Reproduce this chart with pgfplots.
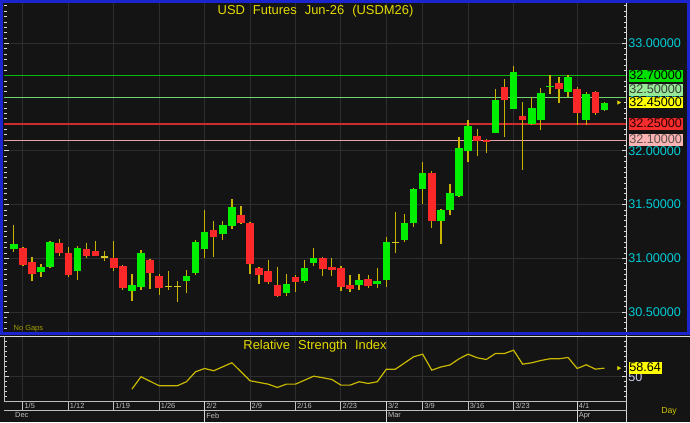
\documentclass[border=0pt]{standalone}
\usepackage{pgfplots}
\pgfplotsset{compat=1.18}
\usepackage{pgfplotstable}
\usepackage{fontspec}
\setmainfont{Liberation Sans}

\definecolor{bg}{RGB}{20,20,20}
\definecolor{gridc}{RGB}{46,46,46}
\definecolor{paneblue}{RGB}{28,36,205}
\definecolor{upc}{RGB}{0,238,0}
\definecolor{dnc}{RGB}{250,40,40}
\definecolor{wick}{RGB}{200,180,0}
\definecolor{dojic}{RGB}{215,200,40}
\definecolor{ttl}{RGB}{228,218,0}
\definecolor{cyanlab}{RGB}{0,205,215}
\definecolor{lvgreen}{RGB}{0,225,0}
\definecolor{lvgreenline}{RGB}{10,185,10}
\definecolor{lvlgreen}{RGB}{150,235,150}
\definecolor{lvlgreenline}{RGB}{110,215,110}
\definecolor{lvyellow}{RGB}{255,255,0}
\definecolor{lvred}{RGB}{245,45,45}
\definecolor{lvredline}{RGB}{205,45,45}
\definecolor{lvpink}{RGB}{255,180,180}
\definecolor{lvpinkline}{RGB}{230,165,165}
\definecolor{rsic}{RGB}{200,185,0}
\definecolor{ticksc}{RGB}{215,215,215}
\definecolor{datec}{RGB}{190,190,190}
\definecolor{lav}{RGB}{205,205,240}
\definecolor{olivec}{RGB}{165,160,0}

\pgfplotstableread{
i o h l c
0 31.084 31.307 31.060 31.134
3 30.876 30.945 30.827 30.917
4 30.920 31.161 30.907 31.149
7 30.886 31.118 30.802 31.099
13 30.697 30.858 30.604 30.749
14 30.734 31.081 30.709 31.050
19 30.790 30.895 30.678 30.833
20 30.861 31.171 30.849 31.149
21 31.087 31.446 31.000 31.245
23 31.227 31.347 31.174 31.313
24 31.301 31.555 31.276 31.477
30 30.678 30.858 30.647 30.759
32 30.787 30.985 30.771 30.914
33 30.960 31.099 30.932 31.007
38 30.753 30.852 30.703 30.799
40 30.759 30.911 30.725 30.793
41 30.796 31.199 30.734 31.155
43 31.174 31.413 31.150 31.329
44 31.326 31.657 31.292 31.645
45 31.648 31.896 31.508 31.793
47 31.344 31.462 31.137 31.446
48 31.449 31.688 31.400 31.604
49 31.577 32.128 31.570 32.029
50 32.001 32.286 31.892 32.236
53 32.171 32.577 32.165 32.475
55 32.394 32.791 32.388 32.732
57 32.246 32.506 32.240 32.398
58 32.286 32.584 32.190 32.543
59 32.590 32.707 32.528 32.608
61 32.552 32.707 32.506 32.686
63 32.286 32.546 32.243 32.534
65 32.379 32.456 32.373 32.450
}\upt

\pgfplotstableread{
i o h l c
1 31.099 31.109 30.932 30.941
2 30.966 31.016 30.787 30.851
5 31.140 31.180 31.025 31.050
6 31.047 31.109 30.830 30.846
8 31.090 31.143 31.007 31.025
9 31.065 31.158 31.020 31.025
11 31.007 31.165 30.886 30.910
12 30.932 30.935 30.709 30.728
15 30.982 30.997 30.715 30.861
16 30.839 30.855 30.663 30.728
22 31.264 31.347 31.010 31.196
25 31.406 31.484 31.320 31.329
26 31.329 31.341 30.855 30.945
27 30.914 30.916 30.762 30.842
28 30.883 30.985 30.762 30.777
29 30.749 30.917 30.638 30.653
31 30.830 30.849 30.684 30.777
34 31.007 31.010 30.833 30.901
35 30.917 31.000 30.833 30.892
36 30.907 30.932 30.700 30.737
37 30.756 30.849 30.684 30.712
39 30.808 30.842 30.728 30.743
46 31.793 31.812 31.282 31.350
51 32.143 32.205 31.948 32.094
52 32.103 32.112 31.979 32.081
54 32.590 32.673 32.128 32.469
56 32.326 32.459 31.821 32.289
60 32.633 32.686 32.444 32.577
62 32.574 32.593 32.243 32.357
64 32.549 32.558 32.336 32.357
}\dnt

\pgfplotstableread{
i o h l c
10 31.013 31.068 30.972 31.013
17 30.740 30.883 30.709 30.740
18 30.740 30.793 30.595 30.740
42 31.149 31.430 31.050 31.149
}\dojit

\pgfplotstableread{
i r
13 37.6
14 50.0
15 45.5
16 41.0
17 41.0
18 41.0
19 45.0
20 55.0
21 58.3
22 56.0
23 60.0
24 64.0
25 55.0
26 46.0
27 44.3
28 42.6
29 39.3
30 42.6
31 42.6
32 46.6
33 50.6
34 49.0
35 47.3
36 41.6
37 41.6
38 45.0
39 43.3
40 45.0
41 57.6
42 57.6
43 63.8
44 70.0
45 72.6
46 56.6
47 59.8
48 61.8
49 68.0
50 72.6
51 69.0
52 67.3
53 73.3
54 73.3
55 76.6
56 62.6
57 64.0
58 66.3
59 68.0
60 68.0
61 69.3
62 58.3
63 62.0
64 57.6
65 58.64
}\rsit

\newcommand\tickfont{\fontsize{12.7}{14}\selectfont}
\newcommand\wsp{\hspace{8bp}}

\tikzset{
  lvbox/.style={anchor=west, inner xsep=0.7bp, inner ysep=0.3bp, text height=9.3bp, text depth=1.9bp, font=\tickfont, xshift=1.8bp},
}
\pgfplotsset{
  commonax/.style={
    anchor=south west, scale only axis, width=623bp,
    xmin=-1.022, xmax=67.44, clip=false,
    axis line style={draw=none},
    xtick={1,6,11,16,21,26,31,36,41,45,50,55,62},
    xmajorticks=false,
    xmajorgrids, ymajorgrids,
    grid style={gridc, line width=0.9bp},
    ytick pos=both, yticklabel pos=right, tick align=inside,
    major tick length=5bp, minor tick length=3bp,
    ytick style={ticksc, line width=0.8bp},
    minor tick style={ticksc, line width=0.8bp},
    scaled y ticks=false,
    /pgf/number format/assume math mode=true,
  }
}

\begin{document}
\begin{tikzpicture}
\fill[bg] (0bp,0bp) rectangle (690bp,423bp);

% ---------- main price pane ----------
\begin{axis}[commonax,
  at={(4bp,90bp)}, height=330bp,
  ymin=30.3095, ymax=33.3764,
  ytick={30.5,31,...,33},
  minor ytick={30.35,30.4,...,33.36},
  yticklabel={\pgfmathprintnumber[fixed,fixed zerofill,precision=5]{\tick}},
  yticklabel style={cyanlab, font=\tickfont, inner xsep=1.5bp, anchor=west},
]
% level lines
\addplot[lvgreenline, line width=1.2bp] coordinates {(-1.022,32.70) (67.44,32.70)};
\addplot[lvlgreenline, line width=1.2bp] coordinates {(-1.022,32.50) (67.44,32.50)};
\addplot[lvredline, line width=1.2bp] coordinates {(-1.022,32.25) (67.44,32.25)};
\addplot[lvpinkline, line width=1.2bp] coordinates {(-1.022,32.10) (67.44,32.10)};

% wicks
\addplot[draw=none, mark=none, error bars/.cd, y dir=plus, y explicit, error mark=none,
  error bar style={line width=1.3bp, draw=wick}]
  table[x=i, y=l, y error plus expr={\thisrow{h}-\thisrow{l}}] {\upt};
\addplot[draw=none, mark=none, error bars/.cd, y dir=plus, y explicit, error mark=none,
  error bar style={line width=1.3bp, draw=wick}]
  table[x=i, y=l, y error plus expr={\thisrow{h}-\thisrow{l}}] {\dnt};
\addplot[draw=none, mark=none, error bars/.cd, y dir=plus, y explicit, error mark=none,
  error bar style={line width=1.3bp, draw=wick}]
  table[x=i, y=l, y error plus expr={\thisrow{h}-\thisrow{l}}] {\dojit};
% bodies (dark edge, then colour)
\addplot[draw=none, mark=none, error bars/.cd, y dir=plus, y explicit, error mark=none,
  error bar style={line width=7.6bp, draw=upc}]
  table[x=i, y=o, y error plus expr={\thisrow{c}-\thisrow{o}}] {\upt};
\addplot[draw=none, mark=none, error bars/.cd, y dir=plus, y explicit, error mark=none,
  error bar style={line width=7.6bp, draw=dnc}]
  table[x=i, y=c, y error plus expr={\thisrow{o}-\thisrow{c}}] {\dnt};
\addplot[only marks, mark=-, mark size=3.6bp, mark options={draw=dojic, line width=1.3bp}]
  table[x=i, y=o] {\dojit};
% last price marker
\addplot[only marks, mark=triangle*, mark size=2bp, mark options={rotate=-90, draw=ttl, fill=ttl}]
  coordinates {(66.56,32.45)};

\node[lvbox, fill=lvgreen, text=black] at (axis cs:67.44,32.70) {32.70000};
\node[lvbox, fill=lvlgreen, text={rgb,255:red,60;green,60;blue,60}, yshift=7.5bp] at (axis cs:67.44,32.50) {32.50000};
\node[lvbox, fill=lvyellow, text=black] at (axis cs:67.44,32.45) {32.45000};
\node[lvbox, fill=lvred, text={rgb,255:red,40;green,0;blue,0}] at (axis cs:67.44,32.25) {32.25000};
\node[lvbox, fill=lvpink, text={rgb,255:red,90;green,80;blue,80}] at (axis cs:67.44,32.10) {32.10000};
\end{axis}

% ---------- RSI pane ----------
\begin{axis}[commonax,
  at={(4bp,22bp)}, height=64bp,
  ymin=26.3, ymax=90.3,
  ytick={50}, minor ytick={30,35,...,90},
  yticklabel style={lav, font=\tickfont, inner xsep=1.5bp, anchor=west},
]
\addplot[rsic, line width=1.2bp] table[x=i, y=r] {\rsit};
\addplot[only marks, mark=triangle*, mark size=2bp, mark options={rotate=-90, draw=ttl, fill=ttl}]
  coordinates {(66.56,58.64)};
\node[lvbox, fill=lvyellow, text=black] at (axis cs:67.44,58.64) {58.64};
\end{axis}

% ---------- frames, date strip, texts ----------
\begin{scope}[x=1bp,y=1bp]
\draw[ticksc, line width=1bp] (627,0) -- (627,420);
\draw[ticksc!85, line width=1bp] (0,86.5) -- (690,86.5);
\draw[datec, line width=1bp] (4,86.5) -- (4,21.3);
\draw[datec, line width=1bp] (4,21.3) -- (627,21.3);
\draw[datec, line width=1bp] (4,12.3) -- (627,12.3);
\foreach \i in {1,6,11,16,26,31,36,45,50,55}
  \draw[datec, line width=1bp] ({13.3+9.1*\i},21.3) -- ({13.3+9.1*\i},12.3);
\foreach \i in {21,41,62}
  \draw[ticksc, line width=1bp] ({13.3+9.1*\i},21.3) -- ({13.3+9.1*\i},0);
\foreach \i/\t in {1/{1/5},6/{1/12},11/{1/19},16/{1/26},21/{2/2},26/{2/9},31/{2/16},36/{2/23},41/{3/2},45/{3/9},50/{3/16},55/{3/23},62/{4/1}}
  \node[anchor=west, inner sep=0, font=\fontsize{7.5}{8}\selectfont, text=datec] at ({13.3+9.1*\i+1.5},16.5) {\t};
\foreach \i/\t in {-0.03/Dec,21/Feb,41/Mar,62/Apr}
  \node[anchor=west, inner sep=0, font=\fontsize{7.5}{8}\selectfont, text=datec] at ({13.3+9.1*\i+1.5},7) {\t};

\node[font=\fontsize{13}{15}\selectfont, text=ttl, inner sep=0] at (315.5,411.5) {USD\wsp Futures\wsp Jun-26\wsp (USDM26)};
\node[font=\fontsize{13}{15}\selectfont, text=ttl, inner sep=0] at (315,76.5) {Relative\wsp Strength\wsp Index};
\node[anchor=west, font=\fontsize{7.5}{8}\selectfont, text=olivec, inner sep=0] at (13,93.7) {No Gaps};
\node[font=\fontsize{8.8}{10}\selectfont, text=ttl!90!black, inner sep=0] at (669.5,10.7) {Day};

\draw[paneblue, line width=3bp] (1.5,89.5) rectangle (688.5,421.5);
\end{scope}
\end{tikzpicture}
\end{document}
